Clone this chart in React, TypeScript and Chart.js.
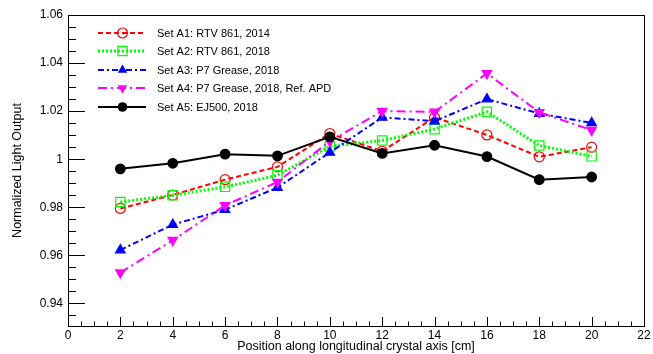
import React, { useEffect, useRef } from "react";
import { Chart, registerables } from "chart.js";

Chart.register(...registerables);

const positions = [2, 4, 6, 8, 10, 12, 14, 16, 18, 20];
const setA1 = [0.9795, 0.9851, 0.9915, 0.9968, 1.0107, 1.0033, 1.0174, 1.0101, 1.001, 1.005];
const setA2 = [0.9822, 0.985, 0.9885, 0.9933, 1.0054, 1.0078, 1.0125, 1.0197, 1.0057, 1.0012];
const setA3 = [0.9622, 0.9728, 0.979, 0.9882, 1.0028, 1.0174, 1.0158, 1.025, 1.019, 1.0151];
const setA4 = [0.9528, 0.9663, 0.9808, 0.9905, 1.0075, 1.02, 1.0197, 1.0357, 1.0195, 1.0121];
const setA5 = [0.996, 0.9983, 1.0021, 1.0014, 1.0093, 1.0024, 1.0058, 1.0011, 0.9915, 0.9926];
const seriesNames = [
  "Set A1: RTV 861, 2014",
  "Set A2: RTV 861, 2018",
  "Set A3: P7 Grease, 2018",
  "Set A4: P7 Grease, 2018, Ref. APD",
  "Set A5: EJ500, 2018",
];
const yTickValues = [0.94, 0.96, 0.98, 1.0, 1.02, 1.04, 1.06];
const yTickLabels = ["0.94", "0.96", "0.98", "1", "1.02", "1.04", "1.06"];
const xTickValues = [0, 2, 4, 6, 8, 10, 12, 14, 16, 18, 20, 22];
const xTickLabels = ["0", "2", "4", "6", "8", "10", "12", "14", "16", "18", "20", "22"];

const FONT = "'Liberation Sans', Arial, sans-serif";

type Style = {
  color: string;
  dash: number[];
  width: number;
  point: string;
  radius: number;
  filled: boolean;
  rotation: number;
};

const styles: Style[] = [
  { color: "#ff0000", dash: [5, 3], width: 2, point: "circle", radius: 5, filled: false, rotation: 0 },
  { color: "#00ff00", dash: [2, 2], width: 3, point: "rect", radius: 6.6, filled: false, rotation: 0 },
  { color: "#0000ff", dash: [6, 3, 2, 3], width: 2, point: "triangle", radius: 5.5, filled: true, rotation: 0 },
  { color: "#ff00ff", dash: [9, 4, 2, 4], width: 2, point: "triangle", radius: 5.5, filled: true, rotation: 180 },
  { color: "#000000", dash: [], width: 2, point: "circle", radius: 4.8, filled: true, rotation: 0 },
];

function drawMarker(ctx: CanvasRenderingContext2D, s: Style, x: number, y: number) {
  ctx.save();
  ctx.setLineDash([]);
  ctx.lineWidth = 1.2;
  ctx.strokeStyle = s.color;
  ctx.fillStyle = s.color;
  ctx.beginPath();
  if (s.point === "circle") {
    ctx.arc(x, y, s.radius, 0, Math.PI * 2);
  } else if (s.point === "rect") {
    const h = s.radius * Math.SQRT1_2;
    ctx.rect(x - h, y - h, 2 * h, 2 * h);
  } else {
    let rad = (s.rotation * Math.PI) / 180;
    ctx.moveTo(x + Math.sin(rad) * s.radius, y - Math.cos(rad) * s.radius);
    rad += (2 * Math.PI) / 3;
    ctx.lineTo(x + Math.sin(rad) * s.radius, y - Math.cos(rad) * s.radius);
    rad += (2 * Math.PI) / 3;
    ctx.lineTo(x + Math.sin(rad) * s.radius, y - Math.cos(rad) * s.radius);
    ctx.closePath();
  }
  if (s.filled) ctx.fill();
  else ctx.stroke();
  ctx.restore();
}

const framePlugin = {
  id: "rootFrame",
  afterDraw(chart: any) {
    const ctx: CanvasRenderingContext2D = chart.ctx;
    const { left, right, top, bottom } = chart.chartArea;
    const xs = chart.scales.x;
    const ys = chart.scales.y;
    ctx.save();
    ctx.strokeStyle = "#000";
    ctx.lineWidth = 1;
    ctx.setLineDash([]);
    ctx.strokeRect(Math.round(left) + 0.5, Math.round(top) + 0.5, Math.round(right - left), Math.round(bottom - top));
    ctx.beginPath();
    for (let v = 0.93; v <= 1.0601; v += 0.005) {
      const vv = Math.round(v * 1000) / 1000;
      if (vv < ys.min - 1e-9 || vv > ys.max + 1e-9) continue;
      const isMajor = Math.abs(vv * 50 - Math.round(vv * 50)) < 1e-6;
      const py = Math.round(ys.getPixelForValue(vv)) + 0.5;
      const len = isMajor ? 17 : 8;
      ctx.moveTo(left, py);
      ctx.lineTo(left + len, py);
    }
    for (let v = 0; v <= 22.001; v += 0.5) {
      const isMajor = Math.abs(v / 2 - Math.round(v / 2)) < 1e-6;
      const px = Math.round(xs.getPixelForValue(v)) + 0.5;
      const len = isMajor ? 9 : 4.5;
      ctx.moveTo(px, bottom);
      ctx.lineTo(px, bottom - len);
    }
    ctx.stroke();

    const legendY = [33, 51, 70, 88, 107];
    ctx.font = `11px ${FONT}`;
    ctx.textBaseline = "middle";
    ctx.textAlign = "left";
    styles.forEach((s, i) => {
      const y = legendY[i];
      ctx.save();
      ctx.strokeStyle = s.color;
      ctx.lineWidth = s.width;
      ctx.setLineDash(s.dash);
      ctx.beginPath();
      ctx.moveTo(98, y);
      ctx.lineTo(146, y);
      ctx.stroke();
      ctx.restore();
      drawMarker(ctx, s, 122.5, y);
      ctx.fillStyle = "#000";
      ctx.fillText(seriesNames[i], 157, y + 0.5);
    });
    ctx.restore();
  },
};

export default function App() {
  const canvasRef = useRef<HTMLCanvasElement>(null);

  useEffect(() => {
    document.body.style.margin = "0";
    const canvas = canvasRef.current!;
    const allSeries = [setA1, setA2, setA3, setA4, setA5];
    const datasets = allSeries.map((vals, i) => {
      const s = styles[i];
      return {
        label: seriesNames[i],
        data: positions.map((x, j) => ({ x, y: vals[j] })),
        borderColor: s.color,
        borderWidth: s.width,
        borderDash: s.dash,
        backgroundColor: s.color,
        pointStyle: s.point,
        pointRadius: s.radius,
        pointRotation: s.rotation,
        pointBorderWidth: 1.2,
        pointBorderColor: s.color,
        pointBackgroundColor: s.filled ? s.color : "rgba(0,0,0,0)",
        tension: 0,
        fill: false,
        order: 5 - i,
      };
    });

    const chart = new Chart(canvas, {
      type: "line",
      data: { datasets },
      options: {
        animation: false,
        responsive: false,
        maintainAspectRatio: false,
        layout: { padding: { top: 15, right: 9, left: 0, bottom: 0 } },
        plugins: { legend: { display: false }, tooltip: { enabled: false } },
        scales: {
          x: {
            type: "linear",
            min: 0,
            max: 22,
            grid: { display: false, drawTicks: false },
            border: { display: false },
            afterBuildTicks: (scale: any) => {
              scale.ticks = xTickValues.map((v) => ({ value: v }));
            },
            afterFit: (scale: any) => {
              scale.height = 28;
            },
            ticks: {
              autoSkip: false,
              maxRotation: 0,
              padding: 2,
              color: "#000",
              font: { family: FONT, size: 12 },
              callback: (v: any) => {
                const idx = xTickValues.findIndex((t) => Math.abs(t - v) < 1e-6);
                return idx >= 0 ? xTickLabels[idx] : "";
              },
            },
            title: {
              display: true,
              text: "Position along longitudinal crystal axis [cm]",
              color: "#000",
              font: { family: FONT, size: 12.5 },
              padding: { top: 0, bottom: 0 },
            },
          },
          y: {
            type: "linear",
            min: 0.9306,
            max: 1.06,
            grid: { display: false, drawTicks: false },
            border: { display: false },
            afterBuildTicks: (scale: any) => {
              scale.ticks = yTickValues.map((v) => ({ value: v }));
            },
            afterFit: (scale: any) => {
              scale.width = 68;
            },
            ticks: {
              autoSkip: false,
              padding: 5,
              color: "#000",
              font: { family: FONT, size: 12 },
              callback: (v: any) => {
                const idx = yTickValues.findIndex((t) => Math.abs(t - v) < 1e-6);
                return idx >= 0 ? yTickLabels[idx] : "";
              },
            },
            title: {
              display: true,
              text: "Normalized Light Output",
              color: "#000",
              font: { family: FONT, size: 12.5 },
              padding: { top: 10.5, bottom: 0 },
            },
          },
        },
      } as any,
      plugins: [framePlugin],
    });
    return () => chart.destroy();
  }, []);

  return (
    <div style={{ width: 653, height: 354, background: "#fff" }}>
      <canvas ref={canvasRef} width={653} height={354} style={{ display: "block" }} />
    </div>
  );
}
